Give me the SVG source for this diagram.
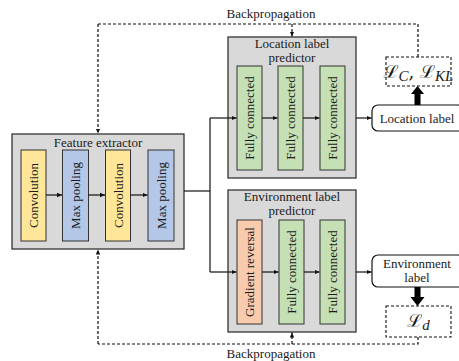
<svg xmlns="http://www.w3.org/2000/svg" width="459" height="361" viewBox="0 0 459 361">
<defs>
<marker id="ah" markerUnits="userSpaceOnUse" markerWidth="6" markerHeight="6" refX="5" refY="3" orient="auto">
<path d="M0,0.8 L5,3 L0,5.2 Z" fill="#111"/>
</marker>
<style>
text{font-family:"Liberation Serif","Times New Roman",serif;font-size:13px;fill:#1a1a1a}
.t{text-anchor:middle}
.v{text-anchor:middle;dominant-baseline:central}
.grp{fill:#d9d9d9;stroke:#333;stroke-width:1.3}
.conv{fill:#ffe699;stroke:#333;stroke-width:1}
.pool{fill:#b4c7e7;stroke:#333;stroke-width:1}
.fc{fill:#c5e0b4;stroke:#333;stroke-width:1}
.gr{fill:#f8cbad;stroke:#333;stroke-width:1}
.lab{fill:#fff;stroke:#111;stroke-width:1.2}
.loss{fill:#fff;stroke:#111;stroke-width:1.1;stroke-dasharray:3 2}
.ln{fill:none;stroke:#111;stroke-width:1.2}
.ar{fill:none;stroke:#111;stroke-width:1.2;marker-end:url(#ah)}
.dl{fill:none;stroke:#111;stroke-width:1.2;stroke-dasharray:3 2}
.da{fill:none;stroke:#111;stroke-width:1.2;stroke-dasharray:3 2;marker-end:url(#ah)}
.m{font-family:"DejaVu Serif","Noto Sans",serif;font-size:18px;font-style:normal}
.s{font-family:"Liberation Serif","Times New Roman",serif;font-size:15px;font-style:italic}
</style>
</defs>

<g id="feature-extractor">
<rect class="grp" x="12" y="134" width="172" height="115"/>
<text class="t" x="98" y="147">Feature extractor</text>
<rect class="conv" x="21" y="150" width="25" height="91"/>
<text class="v" transform="translate(33.5,195.5) rotate(-90)">Convolution</text>
<rect class="pool" x="62.5" y="150" width="26" height="91"/>
<text class="v" transform="translate(75.5,195.5) rotate(-90)">Max pooling</text>
<rect class="conv" x="105.5" y="150" width="25" height="91"/>
<text class="v" transform="translate(118,195.5) rotate(-90)">Convolution</text>
<rect class="pool" x="148" y="150" width="26" height="91"/>
<text class="v" transform="translate(161,195.5) rotate(-90)">Max pooling</text>
</g>

<g id="location-predictor">
<rect class="grp" x="228" y="37" width="128" height="141"/>
<text class="t" x="292" y="48">Location label</text>
<text class="t" x="292" y="62">predictor</text>
<rect class="fc" x="237" y="66" width="25" height="104"/>
<text class="v" transform="translate(249.5,118) rotate(-90)">Fully connected</text>
<rect class="fc" x="278" y="66" width="25" height="104"/>
<text class="v" transform="translate(290.5,118) rotate(-90)">Fully connected</text>
<rect class="fc" x="320" y="66" width="25" height="104"/>
<text class="v" transform="translate(332.5,118) rotate(-90)">Fully connected</text>
</g>

<g id="environment-predictor">
<rect class="grp" x="228" y="190" width="128" height="142"/>
<text class="t" x="292" y="201">Environment label</text>
<text class="t" x="292" y="215">predictor</text>
<rect class="gr" x="237" y="220" width="25" height="104"/>
<text class="v" transform="translate(249.5,272) rotate(-90)">Gradient reversal</text>
<rect class="fc" x="279" y="220" width="25" height="104"/>
<text class="v" transform="translate(291.5,272) rotate(-90)">Fully connected</text>
<rect class="fc" x="320" y="220" width="25" height="104"/>
<text class="v" transform="translate(332.5,272) rotate(-90)">Fully connected</text>
</g>

<g id="location-label">
<rect class="lab" x="372" y="105" width="92" height="26" rx="6"/>
<text class="t" x="417" y="122.5">Location label</text>
</g>

<g id="environment-label">
<rect class="lab" x="372" y="255" width="92" height="32" rx="6"/>
<text class="t" x="417" y="268">Environment</text>
<text class="t" x="417" y="282">label</text>
</g>

<g id="loss-location">
<rect class="loss" x="386" y="57" width="65" height="29"/>
<text x="418.5" y="78" text-anchor="middle"><tspan class="m">ℒ</tspan><tspan class="s" dy="3">C</tspan><tspan class="m" dy="-3">, ℒ</tspan><tspan class="s" dy="3">KL</tspan></text>
</g>

<g id="loss-environment">
<rect class="loss" x="386" y="306" width="65" height="31"/>
<text x="418.5" y="327" text-anchor="middle"><tspan class="m">ℒ</tspan><tspan class="s" dy="3">d</tspan></text>
</g>

<g id="connectors">
<path class="ar" d="M46,195 H62"/>
<path class="ar" d="M88.5,195 H105"/>
<path class="ar" d="M130.5,195 H147.5"/>
<path class="ln" d="M184,191 H210"/>
<path class="ln" d="M210,118 V272"/>
<path class="ar" d="M210,118 H236.5"/>
<path class="ar" d="M210,272 H236.5"/>
<path class="ar" d="M262,118 H277.5"/>
<path class="ar" d="M303,118 H319.5"/>
<path class="ar" d="M262,272 H278.5"/>
<path class="ar" d="M304,272 H319.5"/>
<path class="ar" d="M356,118 H371.5"/>
<path class="ar" d="M356,272 H371.5"/>
<path d="M414.5,105 V94 H411 L417.5,86 L424,94 H420.5 V105 Z" fill="#000"/>
<path d="M414.5,287 V297 H410.5 L417.5,306 L424.5,297 H420.5 V287 Z" fill="#000"/>
<path class="dl" d="M418,57 V24 H98"/>
<path class="da" d="M98,24 V133.5"/>
<path class="da" d="M292,24 V36.5"/>
<path class="dl" d="M418,337 V344 H98"/>
<path class="da" d="M98,344 V249.5"/>
<path class="da" d="M292,344 V332.5"/>
</g>

<text x="271" y="18" text-anchor="middle">Backpropagation</text>
<text x="271" y="358" text-anchor="middle">Backpropagation</text>
</svg>
